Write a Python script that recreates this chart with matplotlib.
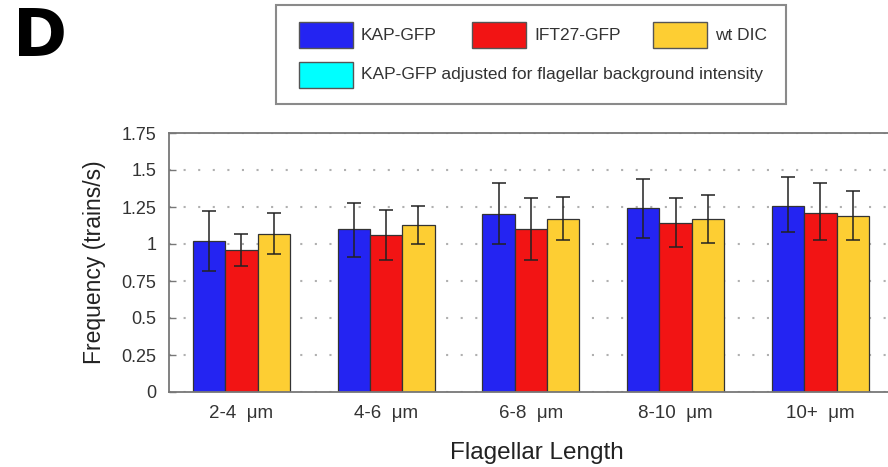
import numpy as np
import matplotlib.pyplot as plt
from matplotlib.patches import Rectangle
from matplotlib.ticker import FormatStrFormatter

plt.rcParams['font.family'] = ['Liberation Sans', 'DejaVu Sans']

groups = ['2-4  μm', '4-6  μm', '6-8  μm', '8-10  μm', '10+  μm']
series = ['KAP-GFP', 'IFT27-GFP', 'wt DIC']
extra_label = 'KAP-GFP adjusted for flagellar background intensity'

# mean frequency (trains/s)
kap = [1.02, 1.10, 1.20, 1.24, 1.26]
ift27 = [0.96, 1.06, 1.10, 1.14, 1.21]
wt_dic = [1.07, 1.13, 1.17, 1.17, 1.19]

# error bar ends: (below, above)
kap_err = [[0.20, 0.19, 0.20, 0.20, 0.18], [0.20, 0.18, 0.21, 0.20, 0.19]]
ift27_err = [[0.11, 0.17, 0.21, 0.16, 0.18], [0.11, 0.17, 0.21, 0.17, 0.20]]
wt_dic_err = [[0.14, 0.13, 0.14, 0.16, 0.16], [0.14, 0.13, 0.15, 0.16, 0.17]]

colors = ['#2424f2', '#f21414', '#fdce33']
cyan = '#00ffff'

W, H = 888, 467
fig = plt.figure(figsize=(W / 100, H / 100), dpi=100)


def fx(x):
    return x / W


def fy(y):
    return 1 - y / H


period = 144.75
xmin, xmax = -0.5, 4.585
ax = fig.add_axes([fx(169), fy(392), (xmax - xmin) * period / W, (392 - 133) / H])

x = np.arange(len(groups))
bw = 0.223
for i, (vals, err) in enumerate(zip([kap, ift27, wt_dic], [kap_err, ift27_err, wt_dic_err])):
    ax.bar(x + (i - 1) * bw, vals, bw, color=colors[i], edgecolor='#333333',
           linewidth=0.9, zorder=2)
    ax.errorbar(x + (i - 1) * bw, vals, yerr=err, fmt='none', ecolor='#222222',
                elinewidth=1.1, capsize=5, capthick=1.1, zorder=3)

ax.set_xlim(xmin, xmax)
ax.set_ylim(0, 1.75)
ax.set_yticks(np.arange(0, 1.76, 0.25))
ax.yaxis.set_major_formatter(FormatStrFormatter('%g'))
ax.set_xticks(x)
ax.set_xticklabels(groups)
ax.tick_params(axis='y', direction='in', length=5, width=1, color='#777777',
               labelsize=13, labelcolor='#333333', pad=9)
ax.tick_params(axis='x', length=0, labelsize=13.5, labelcolor='#333333', pad=9)
ax.yaxis.grid(True, linestyle=(0, (1, 6)), linewidth=1.5, color='#b0b0b0')
ax.set_axisbelow(True)
for s in ax.spines.values():
    s.set_color('#777777')
    s.set_linewidth(1.3)

ax.set_ylabel('Frequency (trains/s)', fontsize=16.5, color='#222222', labelpad=11)
ax.set_xlabel('Flagellar Length', fontsize=17.5, color='#222222', labelpad=15)

# panel letter
fig.text(fx(13), fy(38), 'D', fontsize=47, fontweight='heavy', va='center',
         ha='left', family='DejaVu Sans')

# legend box drawn by hand: three entries on top, the adjusted one below
fig.add_artist(Rectangle((fx(276), fy(104)), (786 - 276) / W, (104 - 5) / H,
                         transform=fig.transFigure, facecolor='white',
                         edgecolor='#8a8a8a', linewidth=1.5))
entries = [(series[0], colors[0], 299, 35), (series[1], colors[1], 472, 35),
           (series[2], colors[2], 653, 35), (extra_label, cyan, 299, 75)]
for label, col, sx, cy in entries:
    fig.add_artist(Rectangle((fx(sx), fy(cy + 13)), 54 / W, 26 / H,
                             transform=fig.transFigure, facecolor=col,
                             edgecolor='#555555', linewidth=1))
    fig.text(fx(sx + 62), fy(cy), label, fontsize=12.5, color='#333333',
             va='center', ha='left')

fig.savefig('out.png', dpi=100)
